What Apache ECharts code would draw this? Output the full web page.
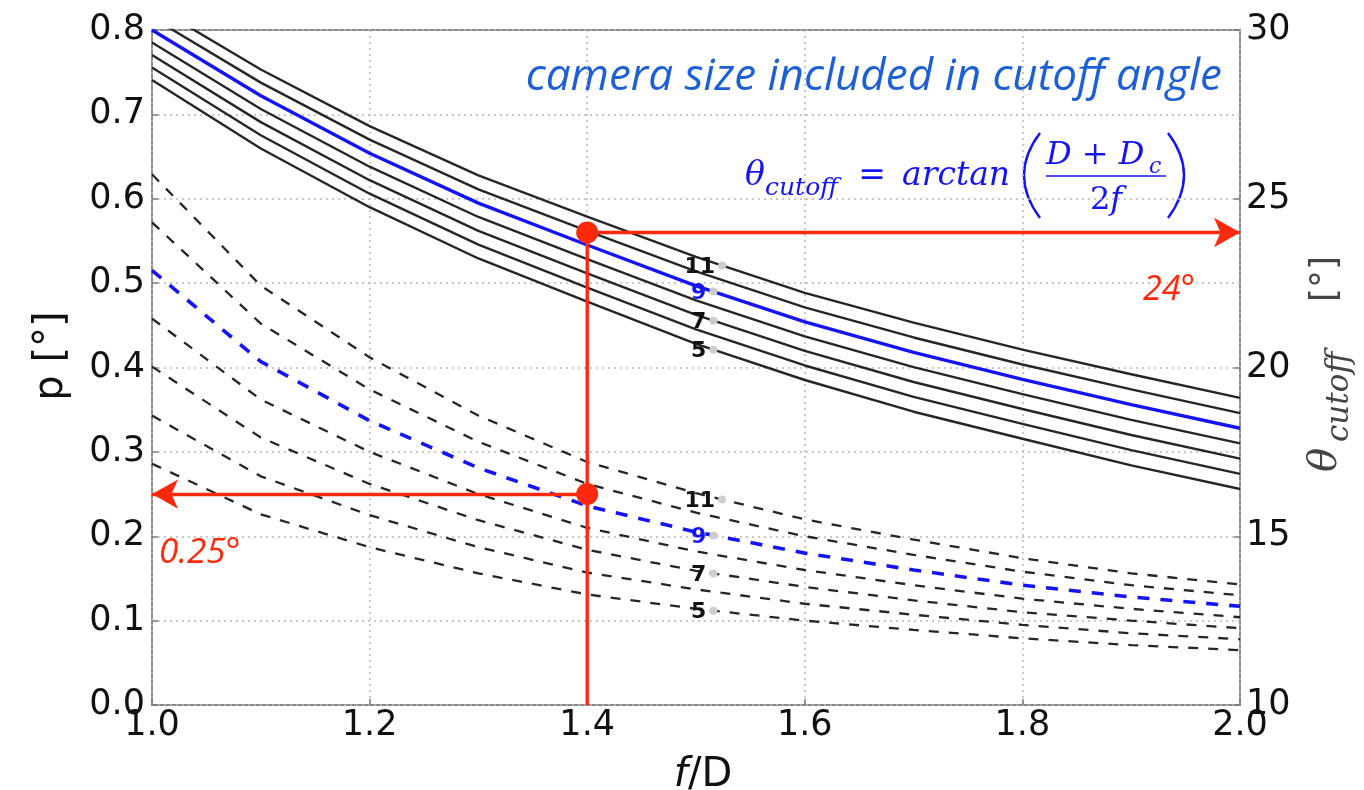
<!DOCTYPE html>
<html>
<head>
<meta charset="utf-8">
<script src="https://cdn.jsdelivr.net/npm/echarts@6/dist/echarts.min.js"></script>
<style>
  html, body { margin: 0; padding: 0; background: #ffffff; }
  #chart { width: 1364px; height: 790px; }
</style>
</head>
<body>
<div id="chart"></div>
<script>
// focal ratio f/D
const fD = [1.0, 1.1, 1.2, 1.3, 1.4, 1.5, 1.6, 1.7, 1.8, 1.9, 2.0];

// camera sizes Dc that are drawn, and the ones carrying an inline label
const dcValues = [5, 6, 7, 8, 9, 10, 11];
const labelledDc = [11, 9, 7, 5];
const highlightDc = 9;

// cutoff angle theta_cutoff [deg] (right axis), one curve per Dc
const thetaDc5  = [28.52, 26.49, 24.75, 23.23, 21.95, 20.70, 19.63, 18.69, 17.89, 17.10, 16.40];
const thetaDc6  = [28.89, 26.88, 25.15, 23.64, 22.37, 21.13, 20.06, 19.13, 18.33, 17.55, 16.85];
const thetaDc7  = [29.26, 27.27, 25.55, 24.05, 22.79, 21.56, 20.49, 19.57, 18.77, 18.00, 17.30];
const thetaDc8  = [29.63, 27.66, 25.95, 24.46, 23.21, 21.99, 20.92, 20.01, 19.21, 18.45, 17.75];
const thetaDc9  = [30.00, 28.05, 26.35, 24.87, 23.63, 22.42, 21.35, 20.45, 19.65, 18.90, 18.20];
const thetaDc10 = [30.37, 28.44, 26.75, 25.28, 24.05, 22.85, 21.78, 20.89, 20.09, 19.35, 18.65];
const thetaDc11 = [30.74, 28.83, 27.15, 25.69, 24.47, 23.28, 22.21, 21.33, 20.53, 19.80, 19.10];

// p [deg] (left axis), one dashed curve per Dc
const pDc5  = [0.286, 0.226, 0.187, 0.156, 0.131, 0.114, 0.100, 0.089, 0.079, 0.071, 0.065];
const pDc6  = [0.343, 0.271, 0.225, 0.187, 0.157, 0.137, 0.120, 0.107, 0.095, 0.085, 0.078];
const pDc7  = [0.401, 0.317, 0.262, 0.219, 0.184, 0.159, 0.140, 0.124, 0.110, 0.100, 0.091];
const pDc8  = [0.458, 0.362, 0.300, 0.250, 0.210, 0.182, 0.160, 0.142, 0.126, 0.114, 0.104];
const pDc9  = [0.515, 0.407, 0.337, 0.281, 0.236, 0.205, 0.180, 0.160, 0.142, 0.128, 0.117];
const pDc10 = [0.572, 0.452, 0.374, 0.312, 0.262, 0.228, 0.200, 0.178, 0.158, 0.142, 0.130];
const pDc11 = [0.629, 0.497, 0.412, 0.343, 0.288, 0.251, 0.220, 0.196, 0.174, 0.156, 0.143];

// highlighted working point
const markFD = 1.4;
const markTheta = 24;     // deg, read on the right axis
const markP = 0.25;       // deg, read on the left axis
const markThetaText = '24°';
const markPText = '0.25°';

// axis ticks
const xTicks = { min: 1.0, max: 2.0, step: 0.2 };
const pTicks = { min: 0.0, max: 0.8, step: 0.1 };
const thetaTicks = { min: 10, max: 30, step: 5 };

const thetaByDc = { 5: thetaDc5, 6: thetaDc6, 7: thetaDc7, 8: thetaDc8, 9: thetaDc9, 10: thetaDc10, 11: thetaDc11 };
const pByDc = { 5: pDc5, 6: pDc6, 7: pDc7, 8: pDc8, 9: pDc9, 10: pDc10, 11: pDc11 };

const BLUE = '#1414f5';
const DARK = '#262626';
const RED = '#ff2a0c';
const TEXT = '#111111';

// value of a curve at an arbitrary f/D (for placing the inline labels on it)
function valueAt(arr, x) {
  for (let i = 0; i < fD.length - 1; i++) {
    if (x >= fD[i] && x <= fD[i + 1]) {
      const t = (x - fD[i]) / (fD[i + 1] - fD[i]);
      return arr[i] + t * (arr[i + 1] - arr[i]);
    }
  }
  return arr[arr.length - 1];
}
const labelX = dc => (dc >= 10 ? 1.524 : 1.516);

const series = [];

// dashed p curves
dcValues.forEach(dc => {
  const hi = dc === highlightDc;
  series.push({
    name: 'p Dc=' + dc, type: 'line', xAxisIndex: 0, yAxisIndex: 0,
    data: fD.map((x, i) => [x, pByDc[dc][i]]),
    symbol: 'none', silent: true, z: hi ? 4 : 3,
    lineStyle: { color: hi ? BLUE : DARK, width: hi ? 3.6 : 2.3, type: hi ? [12, 11] : [10, 10] }
  });
});

// solid cutoff angle curves
dcValues.forEach(dc => {
  const hi = dc === highlightDc;
  series.push({
    name: 'theta Dc=' + dc, type: 'line', xAxisIndex: 0, yAxisIndex: 1,
    data: fD.map((x, i) => [x, thetaByDc[dc][i]]),
    symbol: 'none', silent: true, z: hi ? 4 : 3,
    lineStyle: { color: hi ? BLUE : DARK, width: hi ? 3.4 : 2.4 }
  });
});

// inline Dc labels with a small grey anchor dot
function labelSeries(yAxisIndex, src) {
  return {
    type: 'scatter', xAxisIndex: 0, yAxisIndex: yAxisIndex, silent: true, z: 6,
    symbolSize: 8, itemStyle: { color: '#cdcdcd', opacity: 1 },
    data: labelledDc.map(dc => ({
      value: [labelX(dc), valueAt(src[dc], labelX(dc)), String(dc)],
      label: { color: dc === highlightDc ? BLUE : '#111111' }
    })),
    label: {
      show: true, position: 'left', distance: 3, offset: [0, 2],
      formatter: p => p.value[2],
      fontFamily: 'DejaVu Sans', fontWeight: 'bold', fontSize: 22
    }
  };
}
series.push(labelSeries(1, thetaByDc));
series.push(labelSeries(0, pByDc));

// red read-off lines
series.push({
  type: 'line', xAxisIndex: 0, yAxisIndex: 1, symbol: 'none', silent: true, z: 8,
  data: [[markFD, thetaTicks.min], [markFD, markTheta]],
  lineStyle: { color: RED, width: 3.4 },
  markLine: {
    silent: true, animation: false, symbol: ['none', 'arrow'], symbolSize: [22, 26],
    lineStyle: { color: RED, width: 3.4, type: 'solid' }, label: { show: false },
    data: [[{ coord: [markFD, markTheta] }, { coord: [xTicks.max, markTheta] }]]
  }
});
series.push({
  type: 'line', xAxisIndex: 0, yAxisIndex: 0, symbol: 'none', silent: true, z: 8,
  data: [],
  markLine: {
    silent: true, animation: false, symbol: ['none', 'arrow'], symbolSize: [22, 26],
    lineStyle: { color: RED, width: 3.4, type: 'solid' }, label: { show: false },
    data: [[{ coord: [markFD, markP] }, { coord: [xTicks.min, markP] }]]
  }
});
series.push({
  type: 'scatter', xAxisIndex: 0, yAxisIndex: 1, silent: true, z: 9,
  symbolSize: 22, itemStyle: { color: RED, opacity: 1 }, data: [[markFD, markTheta]]
});
series.push({
  type: 'scatter', xAxisIndex: 0, yAxisIndex: 0, silent: true, z: 9,
  symbolSize: 22, itemStyle: { color: RED, opacity: 1 }, data: [[markFD, markP]]
});

const tickLabel = { fontFamily: 'DejaVu Sans', fontSize: 35, color: TEXT };
const gridLine = { show: true, lineStyle: { color: '#b8b8b8', width: 1.5, type: [2, 4] } };

const formulaFont = 'DejaVu Serif';
const graphic = [
  // headline
  { type: 'text', x: 1222, y: 77, silent: true,
    style: { text: 'camera size included in cutoff angle', align: 'right', verticalAlign: 'middle',
             font: 'italic 44px "Open Sans"', fill: '#1d5fd6' } },
  // theta_cutoff = arctan((D + Dc) / 2f)
  { type: 'text', x: 745, y: 176, silent: true,
    style: { text: 'θ', verticalAlign: 'middle', font: 'italic 33px "' + formulaFont + '"', fill: BLUE } },
  { type: 'text', x: 765, y: 188, silent: true,
    style: { text: 'cutoff', verticalAlign: 'middle', font: 'italic 25px "' + formulaFont + '"', fill: BLUE } },
  { type: 'text', x: 872, y: 176, silent: true,
    style: { text: '=', align: 'center', verticalAlign: 'middle', font: '33px "' + formulaFont + '"', fill: BLUE } },
  { type: 'text', x: 902, y: 176, silent: true,
    style: { text: 'arctan', verticalAlign: 'middle', font: 'italic 33px "' + formulaFont + '"', fill: BLUE } },
  { type: 'bezierCurve', silent: true,
    shape: { x1: 1040, y1: 133, x2: 1040, y2: 218, cpx1: 1008, cpy1: 175 },
    style: { stroke: BLUE, lineWidth: 2.4, fill: null } },
  { type: 'bezierCurve', silent: true,
    shape: { x1: 1168, y1: 133, x2: 1168, y2: 218, cpx1: 1200, cpy1: 175 },
    style: { stroke: BLUE, lineWidth: 2.4, fill: null } },
  { type: 'text', x: 1046, y: 156, silent: true,
    style: { text: '{i|D} + {i|D}', verticalAlign: 'middle', font: '32px "' + formulaFont + '"', fill: BLUE,
             rich: { i: { fontStyle: 'italic', fontFamily: formulaFont, fontSize: 32, fill: BLUE } } } },
  { type: 'text', x: 1149, y: 167, silent: true,
    style: { text: 'c', verticalAlign: 'middle', font: 'italic 22px "' + formulaFont + '"', fill: BLUE } },
  { type: 'line', silent: true,
    shape: { x1: 1046, y1: 176, x2: 1166, y2: 176 }, style: { stroke: BLUE, lineWidth: 1.6 } },
  { type: 'text', x: 1106, y: 201, silent: true,
    style: { text: '2{i|f}', align: 'center', verticalAlign: 'middle', font: '32px "' + formulaFont + '"', fill: BLUE,
             rich: { i: { fontStyle: 'italic', fontFamily: formulaFont, fontSize: 32, fill: BLUE } } } },
  // read-off values
  { type: 'text', x: 1169, y: 290, silent: true, z: 10,
    style: { text: markThetaText, align: 'center', verticalAlign: 'middle', font: 'italic 34px "Open Sans"', fill: RED } },
  { type: 'text', x: 159, y: 553, silent: true, z: 10,
    style: { text: markPText, align: 'left', verticalAlign: 'middle', font: 'italic 35px "Open Sans"', fill: RED } },
  // axis titles
  { type: 'text', x: 52, y: 356, rotation: Math.PI / 2, silent: true,
    style: { text: 'p [°]', align: 'center', verticalAlign: 'middle', font: '40px "DejaVu Sans"', fill: TEXT } },
  { type: 'text', x: 703, y: 776, silent: true,
    style: { text: '{i|f}/D', align: 'center', verticalAlign: 'middle', font: '40px "DejaVu Sans"', fill: TEXT,
             rich: { i: { fontStyle: 'italic', fontFamily: 'DejaVu Sans', fontSize: 40, fill: TEXT } } } },
  { type: 'group', x: 1326, y: 472, rotation: Math.PI / 2, silent: true,
    children: [
      { type: 'text', x: 0, y: 0,
        style: { text: 'θ', verticalAlign: 'middle', font: 'italic 40px "' + formulaFont + '"', fill: '#444444' } },
      { type: 'text', x: 30, y: 14,
        style: { text: 'cutoff', verticalAlign: 'middle', font: 'italic 31px "' + formulaFont + '"', fill: '#444444' } },
      { type: 'text', x: 170, y: 0,
        style: { text: '[°]', verticalAlign: 'middle', font: '36px "DejaVu Sans"', fill: '#444444' } }
    ] }
];

const option = {
  animation: false,
  backgroundColor: '#ffffff',
  grid: { left: 152, right: 124, top: 30, bottom: 85, show: true, borderColor: '#8a8a8a', borderWidth: 2 },
  xAxis: {
    type: 'value', min: xTicks.min, max: xTicks.max, interval: xTicks.step,
    axisLine: { show: false },
    axisTick: { inside: true, length: 6, lineStyle: { color: '#7a7a7a', width: 1.5 } },
    axisLabel: Object.assign({ margin: 3, formatter: v => v.toFixed(1), showMinLabel: true, showMaxLabel: true, hideOverlap: false }, tickLabel),
    splitLine: gridLine
  },
  yAxis: [
    {
      type: 'value', position: 'left', min: pTicks.min, max: pTicks.max, interval: pTicks.step,
      axisLine: { show: false },
      axisTick: { inside: true, length: 6, lineStyle: { color: '#7a7a7a', width: 1.5 } },
      axisLabel: Object.assign({ margin: 7, formatter: v => v.toFixed(1), showMinLabel: true, showMaxLabel: true }, tickLabel),
      splitLine: gridLine
    },
    {
      type: 'value', position: 'right', min: thetaTicks.min, max: thetaTicks.max, interval: thetaTicks.step,
      axisLine: { show: false },
      axisTick: { inside: true, length: 6, lineStyle: { color: '#7a7a7a', width: 1.5 } },
      axisLabel: Object.assign({ margin: 6, formatter: v => String(v), showMinLabel: true, showMaxLabel: true }, tickLabel),
      splitLine: { show: false }
    }
  ],
  series: series,
  graphic: graphic
};

const chart = echarts.init(document.getElementById('chart'), null, { renderer: 'canvas' });
chart.setOption(option);
</script>
</body>
</html>
